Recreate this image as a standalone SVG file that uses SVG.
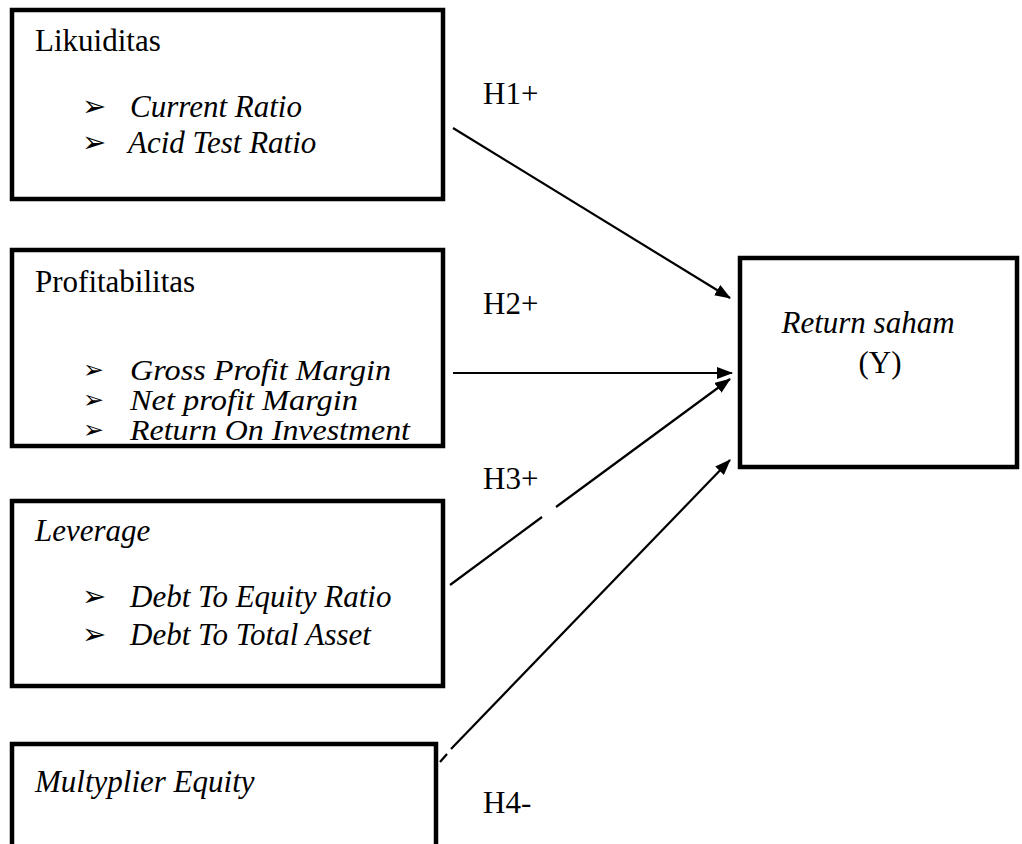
<svg xmlns="http://www.w3.org/2000/svg" width="1022" height="844" viewBox="0 0 1022 844">
<defs>
<style>
.box{fill:#fff;stroke:#000;stroke-width:4.5}
.t{font-family:"Liberation Serif","Times New Roman",serif;font-size:31px;fill:#000}
.s{font-size:29px}
.i{font-style:italic}
.b{font-family:"DejaVu Sans",sans-serif;font-size:29px;fill:#000}
.bs{font-size:25px}
.ln{stroke:#000;stroke-width:2.2;fill:none}
</style>
<marker id="ah" markerWidth="16" markerHeight="12" refX="15" refY="6" orient="auto" markerUnits="userSpaceOnUse">
<path d="M0,0 L16,6 L0,12 Z" fill="#000"/>
</marker>
</defs>
<rect width="1022" height="844" fill="#fff"/>
<g id="likuiditas">
<rect class="box" x="12" y="10" width="431" height="189"/>
<text class="t" x="35" y="51">Likuiditas</text>
<text class="b" x="82" y="116">➢</text>
<text class="t i" x="130" y="117">Current Ratio</text>
<text class="b" x="82" y="152">➢</text>
<text class="t i" x="128" y="153">Acid Test Ratio</text>
</g>
<g id="profitabilitas">
<rect class="box" x="12" y="250" width="431" height="196"/>
<text class="t" x="35" y="292">Profitabilitas</text>
<text class="b bs" x="83" y="378">➢</text>
<text class="t s i" x="130" y="380" textLength="261" lengthAdjust="spacingAndGlyphs">Gross Profit Margin</text>
<text class="b bs" x="83" y="408">➢</text>
<text class="t s i" x="130" y="410" textLength="228" lengthAdjust="spacingAndGlyphs">Net profit Margin</text>
<text class="b bs" x="83" y="438">➢</text>
<text class="t s i" x="130" y="440" textLength="280" lengthAdjust="spacingAndGlyphs">Return On Investment</text>
</g>
<g id="leverage">
<rect class="box" x="12" y="501" width="431" height="185"/>
<text class="t i" x="35" y="541">Leverage</text>
<text class="b" x="82" y="606">➢</text>
<text class="t i" x="130" y="607">Debt To Equity Ratio</text>
<text class="b" x="82" y="644">➢</text>
<text class="t i" x="130" y="645">Debt To Total Asset</text>
</g>
<g id="multyplier">
<rect class="box" x="12" y="744" width="424" height="120"/>
<text class="t i" x="35" y="792">Multyplier Equity</text>
</g>
<g id="return">
<rect class="box" x="740" y="258" width="277" height="209"/>
<text class="t i" x="868" y="333" text-anchor="middle">Return saham</text>
<text class="t" x="880" y="373" text-anchor="middle">(Y)</text>
</g>
<g id="connectors">
<line class="ln" x1="453" y1="128" x2="730" y2="298" marker-end="url(#ah)"/>
<line class="ln" x1="453" y1="373" x2="732" y2="373" marker-end="url(#ah)"/>
<line class="ln" x1="450" y1="585" x2="542" y2="517"/>
<line class="ln" x1="556" y1="507" x2="730" y2="379" marker-end="url(#ah)"/>
<line class="ln" x1="440" y1="762" x2="447" y2="754"/>
<line class="ln" x1="451" y1="749" x2="730" y2="460" marker-end="url(#ah)"/>
</g>
<g id="labels">
<text class="t" x="483" y="104">H1+</text>
<text class="t" x="483" y="314">H2+</text>
<text class="t" x="483" y="489">H3+</text>
<text class="t" x="483" y="813">H4-</text>
</g>
</svg>
